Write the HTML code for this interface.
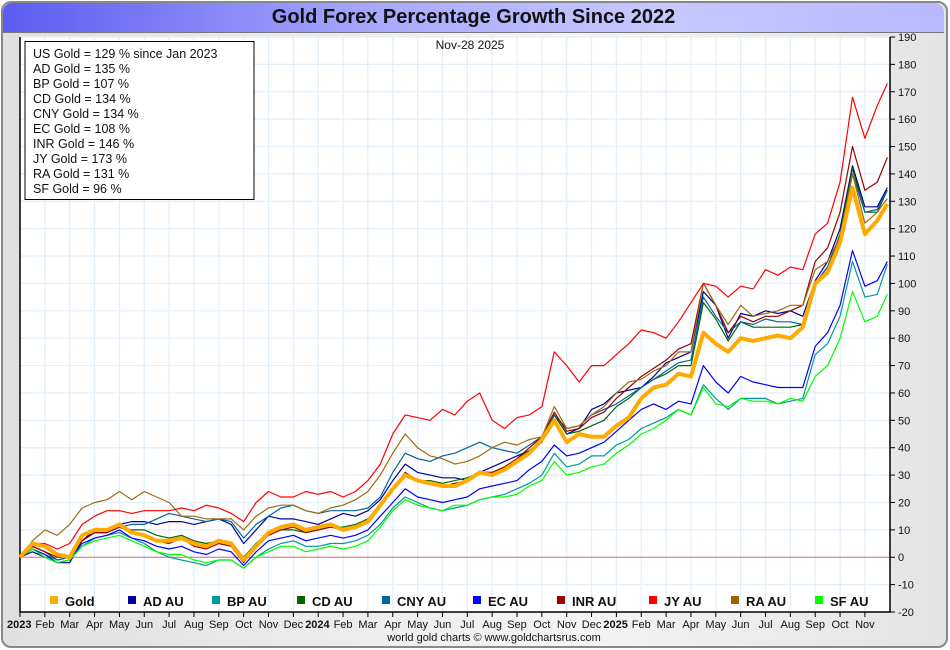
<!DOCTYPE html>
<html><head><meta charset="utf-8"><style>
body{margin:0;width:950px;height:650px;background:#fff;font-family:"Liberation Sans",sans-serif;overflow:hidden}
#frame{position:absolute;left:1px;top:1px;width:943px;height:643px;border:2px solid #888;border-radius:10px;background:linear-gradient(90deg,#e0e0e0,#f4f4f4 60%,#e4e4e4)}
#title{position:absolute;left:3px;top:3px;width:941px;height:29px;border-radius:9px 9px 0 0;background:linear-gradient(90deg,#5c5cf2,#a9a9ff 40%,#c8c8ff 70%,#b8b8ff);border-bottom:1px solid #777;text-align:center;font:bold 20px "Liberation Sans",sans-serif;line-height:29px;color:#111}
svg{position:absolute;left:0;top:0}
</style></head><body>
<div id="frame"></div>
<div id="title">Gold Forex Percentage Growth Since 2022</div>
<svg id="chart" width="950" height="650"></svg>
<script>
const monthLabels=["2023","Feb","Mar","Apr","May","Jun","Jul","Aug","Sep","Oct","Nov","Dec","2024","Feb","Mar","Apr","May","Jun","Jul","Aug","Sep","Oct","Nov","Dec","2025","Feb","Mar","Apr","May","Jun","Jul","Aug","Sep","Oct","Nov"];
const yTicks=[-20,-10,0,10,20,30,40,50,60,70,80,90,100,110,120,130,140,150,160,170,180,190];
const seriesNames=["AD AU","BP AU","CD AU","CNY AU","EC AU","INR AU","JY AU","RA AU","SF AU"];
const summaryLines=["US Gold = 129 % since Jan 2023","AD Gold = 135 %","BP Gold = 107 %","CD Gold = 134 %","CNY Gold = 134 %","EC Gold = 108 %","INR Gold = 146 %","JY Gold = 173 %","RA Gold = 131 %","SF Gold = 96 %"];
const goldVals=[0,5,4,1,0,8,10,10,12,9,8,6,6,7,5,4,6,5,-1,4,9,11,12,10,11,12,10,11,13,19,25,30,28,27,26,26,28,31,30,32,35,38,43,50,42,45,44,44,48,51,58,62,63,67,66,82,78,75,80,79,80,81,80,84,100,104,115,135,118,123,129];
const adVals=[0,2,0,-2,-2,6,10,10,12,13,13,12,13,13,12,13,14,12,5,10,15,14,14,13,12,14,16,15,17,21,28,34,31,30,29,29,28,31,33,35,37,39,42,52,45,47,54,56,60,61,62,66,71,73,75,97,92,80,89,88,90,89,90,88,101,108,120,143,128,128,135];
const bpVals=[0,3,0,-2,-1,4,7,8,9,7,5,2,0,-1,-2,-3,-1,-1,-4,0,3,5,6,4,4,5,5,6,8,12,18,22,20,18,17,18,19,21,22,23,25,27,30,38,33,34,37,37,41,43,47,49,51,54,52,63,58,54,58,58,58,56,57,58,74,78,88,108,95,96,107];
const cdVals=[0,4,2,-1,0,6,9,9,11,10,10,8,7,8,6,5,6,5,0,5,9,10,10,9,10,11,11,12,14,19,25,30,28,28,27,28,29,31,31,33,36,39,43,52,45,46,48,50,55,58,62,65,67,70,70,93,87,79,86,84,84,84,84,85,100,106,118,142,126,126,134];
const cnyVals=[0,3,1,-1,0,6,9,9,11,12,12,14,16,15,14,13,14,13,7,12,15,18,19,17,16,17,17,17,18,22,31,38,36,35,37,38,40,42,40,39,38,41,44,52,47,48,52,54,56,59,62,65,68,71,72,95,88,82,86,85,87,86,86,85,100,106,117,140,126,127,134];
const ecVals=[0,3,1,-2,-1,5,7,8,10,7,6,4,3,4,2,1,3,2,-3,2,6,7,8,6,7,8,7,8,10,15,20,25,22,21,20,21,22,25,26,27,28,32,35,41,37,38,40,42,46,50,54,56,54,57,56,70,64,60,66,64,63,62,62,62,77,82,92,112,99,101,108];
const inrVals=[0,4,2,0,0,6,9,9,11,9,8,6,5,7,4,3,5,4,-2,4,8,10,11,9,10,11,10,11,13,19,25,31,28,27,26,27,28,31,31,33,36,40,44,53,46,47,51,53,58,62,66,69,72,76,78,100,92,82,88,86,88,88,90,92,108,113,126,150,134,137,146];
const jyVals=[0,5,5,3,5,12,15,17,17,16,17,17,17,18,17,19,18,16,13,20,24,22,22,24,23,24,22,24,28,34,45,52,51,50,54,52,57,60,50,47,51,52,55,75,70,64,70,70,74,78,83,82,80,86,93,100,99,95,99,98,105,103,106,105,118,122,137,168,153,165,173];
const raVals=[0,6,10,8,12,18,20,21,24,21,24,22,20,15,15,14,14,14,10,15,18,19,19,17,16,18,19,21,24,30,38,45,40,37,36,34,35,37,40,42,41,43,44,55,47,48,52,55,60,64,65,68,70,75,75,100,92,85,92,88,89,90,92,92,105,108,117,140,122,126,131];
const sfVals=[0,3,0,-2,-1,4,6,7,8,6,4,2,1,1,-1,-2,-1,-1,-4,0,2,4,4,2,3,4,3,4,6,11,17,21,19,18,17,19,19,21,22,22,23,26,28,35,30,31,33,34,38,41,45,47,50,54,52,62,56,55,58,57,57,56,58,57,66,70,80,97,86,88,96];

const NS="http://www.w3.org/2000/svg";
const svg=document.getElementById('chart');
const L=20,R=890,T=37,B=612,MW=24.85;
function xm(m){return L+m*MW;}
function ys(v){return B-(v+20)*(B-T)/210;}
function xi(i,n){return i===n-1?xm(34.9):xm(i*0.5);}
function mk(tag,attrs,txt){const e=document.createElementNS(NS,tag);for(const k in attrs)e.setAttribute(k,attrs[k]);if(txt!==undefined)e.textContent=txt;svg.appendChild(e);return e;}

const bg=mk('rect',{x:L,y:T,width:R-L,height:B-T,fill:'#fff'});


for(let m=0;m<=35;m+=1){const g=mk('line',{x1:xm(m),x2:xm(m),y1:T,y2:B,stroke:'#e2eef8','stroke-width':1.2});

}
yTicks.forEach(v=>{const g=mk('line',{x1:L,x2:R,y1:ys(v),y2:ys(v),stroke:'#e2eef8','stroke-width':1.2});


const t=mk('line',{x1:R,x2:R+5,y1:ys(v),y2:ys(v),stroke:'#000'});


const lb=mk('text',{x:R+8,y:ys(v)+4,'font-size':11,fill:'#111'},String(v));

});
const zl=mk('line',{x1:L,x2:R,y1:ys(0),y2:ys(0),stroke:'#ee6666','stroke-width':1});


const ax=mk('path',{d:`M${L},${T} V${B} H${R} V${T}`,fill:'none',stroke:'#000','stroke-width':1.5});


monthLabels.forEach((lab,m)=>{const t=mk('line',{x1:xm(m),x2:xm(m),y1:B,y2:B+5,stroke:'#000'});


const bold=/^\d{4}$/.test(lab);
const tx=mk('text',{x:bold?xm(m)-13:xm(m),y:628,'font-size':11,'text-anchor':bold?'start':'middle','font-weight':bold?'bold':'normal',fill:'#111'},lab);

});

const seriesData=[adVals,bpVals,cdVals,cnyVals,ecVals,inrVals,raVals,sfVals,jyVals];
const seriesCols=['#000099','#009999','#006600','#006699','#0000ff','#990000','#a06a10','#00ff00','#ff0000'];
const seriesKeys=['ad','bp','cd','cny','ec','inr','ra','sf','jy'];
seriesData.forEach((vals,s)=>{const d=vals.map((v,i)=>(i?'L':'M')+xi(i,vals.length).toFixed(1)+','+ys(v).toFixed(1)).join(' ');
const p=mk('path',{d:d,fill:'none',stroke:seriesCols[s],'stroke-width':1.2,'stroke-linejoin':'round'});

});
const gd=goldVals.map((v,i)=>(i?'L':'M')+xi(i,goldVals.length).toFixed(1)+','+ys(v).toFixed(1)).join(' ');
const gp=mk('path',{d:gd,fill:'none',stroke:'#ffaa00','stroke-width':4,'stroke-linejoin':'round'});



const dt=mk('text',{x:470,y:49,'font-size':12,'text-anchor':'middle',fill:'#111'},'Nov-28  2025');


const sb=mk('rect',{x:25,y:41.5,width:229,height:158,fill:'#fff',stroke:'#000','stroke-width':1});


summaryLines.forEach((s,i)=>{const t=mk('text',{x:33,y:58+i*15,'font-size':12.5,fill:'#111'},s);

});
const legNames=['Gold'].concat(seriesNames);
const legCols=['#ffaa00','#000099','#009999','#006600','#006699','#0000ff','#990000','#ff0000','#996600','#00ff00'];
const legX=[50,128,212,297,382,473,557,649,731,815];
legNames.forEach((n,i)=>{const r=mk('rect',{x:legX[i],y:596,width:8,height:8,fill:legCols[i]});


const t=mk('text',{x:legX[i]+15,y:606,'font-size':13,'font-weight':'bold',fill:'#111'},n);

});
const ft=mk('text',{x:494,y:641,'font-size':11,'text-anchor':'middle',fill:'#111'},'world gold charts \u00a9 www.goldchartsrus.com');


</script>
</body></html>
